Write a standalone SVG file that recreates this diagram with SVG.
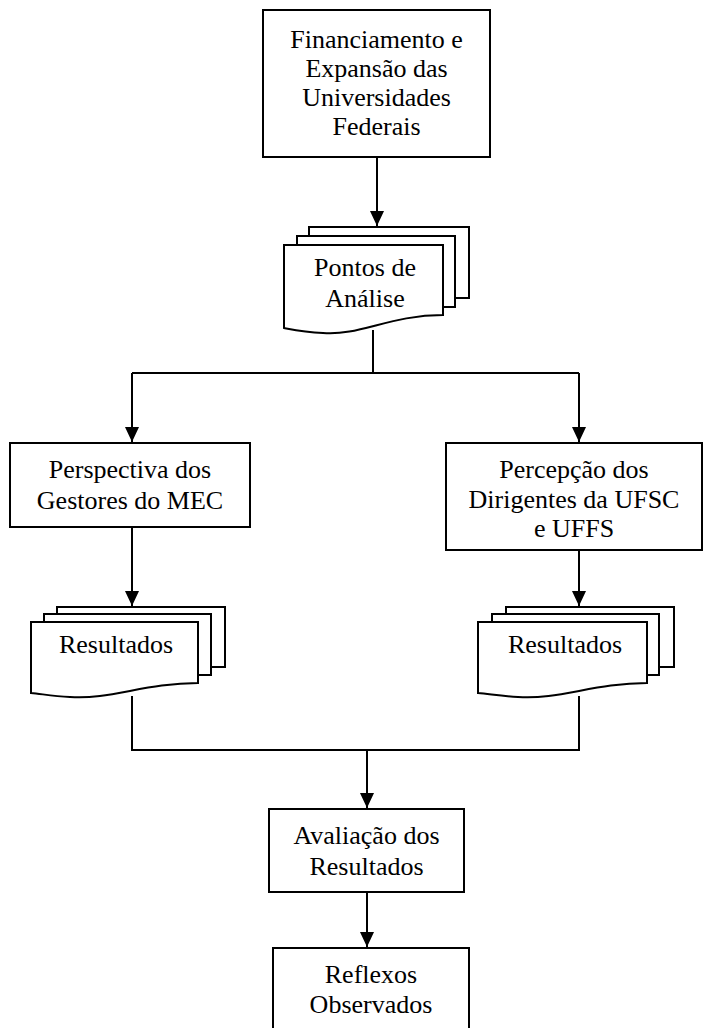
<svg xmlns="http://www.w3.org/2000/svg" width="706" height="1028" viewBox="0 0 706 1028">
<style>
.box{fill:#fff;stroke:#000;stroke-width:2}
.sheet{fill:#fff;stroke:#000;stroke-width:2;stroke-linejoin:miter}
.conn{fill:none;stroke:#000;stroke-width:2}
text{font-family:"Liberation Serif","Times New Roman",serif;font-size:26px;fill:#000;text-anchor:middle}
</style>
<defs>
<marker id="arr" markerUnits="userSpaceOnUse" markerWidth="16" markerHeight="16" viewBox="0 0 16 16" refX="15" refY="8" orient="auto">
<path d="M0,1 L15,8 L0,15 Z" fill="#000"/>
</marker>
</defs>
<rect width="706" height="1028" fill="#fff"/>
<g id="connectors">
<path class="conn" d="M377,157 V226" marker-end="url(#arr)"/>
<path class="conn" d="M373,330 V373 M132,373 H579"/>
<path class="conn" d="M132,373 V442" marker-end="url(#arr)"/>
<path class="conn" d="M579,373 V442" marker-end="url(#arr)"/>
<path class="conn" d="M132,527 V606" marker-end="url(#arr)"/>
<path class="conn" d="M579,550 V606" marker-end="url(#arr)"/>
<path class="conn" d="M132,696 V750 H579 V696"/>
<path class="conn" d="M367,750 V808" marker-end="url(#arr)"/>
<path class="conn" d="M367,892 V947" marker-end="url(#arr)"/>
</g>
<g id="financiamento">
<rect class="box" x="263" y="10" width="227" height="147"/>
<text x="376.5" y="48">Financiamento e</text>
<text x="376.5" y="77">Expansão das</text>
<text x="376.5" y="106">Universidades</text>
<text x="376.5" y="135">Federais</text>
</g>
<g id="pontos">
<rect class="sheet" x="309" y="227" width="160" height="71"/>
<rect class="sheet" x="297" y="236" width="158" height="71"/>
<path class="sheet" d="M284,245 H443 V315 C390,315 360,336 323,333 C305,332 295,330 284,328 Z"/>
<text x="365" y="276">Pontos de</text>
<text x="365" y="307">Análise</text>
</g>
<g id="perspectiva">
<rect class="box" x="10" y="443" width="240" height="84"/>
<text x="130" y="478">Perspectiva dos</text>
<text x="130" y="509">Gestores do MEC</text>
</g>
<g id="percepcao">
<rect class="box" x="446" y="443" width="256" height="107"/>
<text x="574" y="478">Percepção dos</text>
<text x="574" y="508">Dirigentes da UFSC</text>
<text x="574" y="537">e UFFS</text>
</g>
<g id="resultados-esq">
<rect class="sheet" x="57" y="607" width="168" height="60"/>
<rect class="sheet" x="44" y="614" width="167" height="61"/>
<path class="sheet" d="M31,622 H198 V683 C145,683 110,700 70,697 C52,696 42,694 31,693 Z"/>
<text x="116" y="653">Resultados</text>
</g>
<g id="resultados-dir">
<rect class="sheet" x="506" y="607" width="168" height="60"/>
<rect class="sheet" x="492" y="614" width="167" height="61"/>
<path class="sheet" d="M478,622 H647 V683 C594,683 559,700 518,697 C500,696 490,694 478,693 Z"/>
<text x="565" y="653">Resultados</text>
</g>
<g id="avaliacao">
<rect class="box" x="269" y="809" width="195" height="83"/>
<text x="366.5" y="844">Avaliação dos</text>
<text x="366.5" y="875">Resultados</text>
</g>
<g id="reflexos">
<rect class="box" x="273" y="948" width="196" height="90"/>
<text x="371" y="983">Reflexos</text>
<text x="371" y="1013">Observados</text>
</g>
</svg>
